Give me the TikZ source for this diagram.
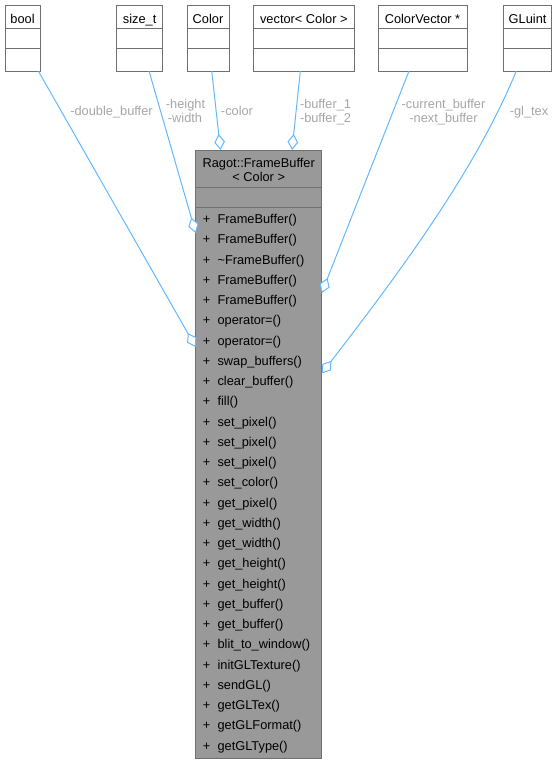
\documentclass[tikz,border=0pt]{standalone}
\usepackage{fontspec}
\setmainfont{Liberation Sans}
\usetikzlibrary{arrows.meta,calc}
\definecolor{edgeblue}{HTML}{63B8FF}
\definecolor{lblgray}{HTML}{A6A6A6}
\definecolor{bordergray}{HTML}{707070}
\definecolor{classfill}{HTML}{999999}
\begin{document}
\begin{tikzpicture}[x=0.75pt,y=-0.75pt,
  font=\fontsize{9.6pt}{11pt}\selectfont,
  umlbox/.style={draw=bordergray, line width=0.75pt, fill=white, anchor=north west, inner sep=0pt, outer sep=0pt},
  txt/.style={inner sep=0pt, anchor=base},
  lbl/.style={inner sep=0pt, anchor=base, text=lblgray},
  divider/.style={draw=bordergray, line width=0.75pt},
  assoc/.style={draw=edgeblue, line width=0.75pt, -{Diamond[fill=white, length=12pt, width=8pt]}}]
\useasboundingbox (0,0) rectangle (558,765);
% type boxes
\foreach \n/\a/\b/\t in {bool/5/40/bool, sizet/116.7/162.7/size\_t, color/187/229/Color, vec/253/354.7/vector< Color >, cvec/378/467/ColorVector *, gluint/503.7/551.5/GLuint}{
  \node[umlbox, minimum width={(\b-\a)*0.75pt}, minimum height=49.5pt] (\n) at (\a,5) {};
  \node[txt] at ($(\n.north)+(0,18.3)$) {\t};
  \draw[divider] ($(\n.north west)+(0,23.3)$) -- ($(\n.north east)+(0,23.3)$);
  \draw[divider] ($(\n.north west)+(0,43.3)$) -- ($(\n.north east)+(0,43.3)$);
}
% main class
\node[umlbox, fill=classfill, minimum width=94.5pt, minimum height=456pt] (main) at (195.7,150) {};
\node[txt] (title1) at ($(main.north)+(0,17.3)$) {Ragot::FrameBuffer};
\node[txt] (title2) at ($(main.north)+(0,31.3)$) {< Color >};
\draw[divider] ($(main.north west)+(0,37.5)$) -- ($(main.north east)+(0,37.5)$);
\draw[divider] ($(main.north west)+(0,57.5)$) -- ($(main.north east)+(0,57.5)$);
\foreach \m [count=\i from 0] in {FrameBuffer(), FrameBuffer(), \textasciitilde FrameBuffer(), FrameBuffer(), FrameBuffer(), operator=(), operator=(), swap\_buffers(), clear\_buffer(), fill(), set\_pixel(), set\_pixel(), set\_pixel(), set\_color(), get\_pixel(), get\_width(), get\_width(), get\_height(), get\_height(), get\_buffer(), get\_buffer(), blit\_to\_window(), initGLTexture(), sendGL(), getGLTex(), getGLFormat(), getGLType()}{
  \node[txt, anchor=base west] at ($(main.north west)+(7,{73.5+20.25*\i})$) {+};
  \node[txt, anchor=base west] at ($(main.north west)+(21.6,{73.5+20.25*\i})$) {\m};
}
% associations
\draw[assoc] ($(bool.south)+(15.8,0)$) -- ($(main.north west)+(0,197)$);
\draw[assoc] ($(sizet.south)+(9.3,0)$) -- ($(main.north west)+(0,83)$);
\draw[assoc] ($(color.south)+(3.7,0)$) -- ($(main.north)+(-38.2,0)$);
\draw[assoc] ($(vec.south)+(-3.5,0)$) -- ($(main.north)+(33.3,0)$);
\draw[assoc] ($(cvec.south)+(-13.5,0)$) -- ($(main.north east)+(0,143)$);
\draw[assoc] ($(gluint.south)+(-11.3,0)$) .. controls +(-41,100) and +(77,-100) .. ($(main.north east)+(0,223.5)$);
% labels
\node[lbl] at (111.5,115) {-double\_buffer};
\node[lbl] at (185.5,108.3) {-height};
\node[lbl] at (185,122.7) {-width};
\node[lbl] at (237,115) {-color};
\node[lbl] at (325.5,108.3) {-buffer\_1};
\node[lbl] at (325.5,122.7) {-buffer\_2};
\node[lbl] at (443.5,108.3) {-current\_buffer};
\node[lbl] at (443.5,122.7) {-next\_buffer};
\node[lbl] at (529,115) {-gl\_tex};
\end{tikzpicture}
\end{document}
